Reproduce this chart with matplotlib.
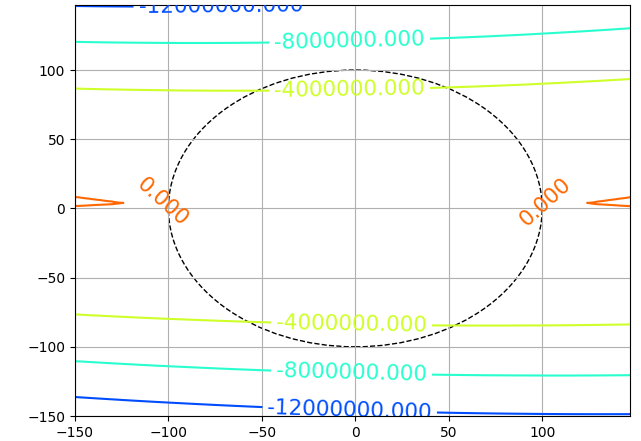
import numpy as np
import matplotlib
matplotlib.use("Agg")
import matplotlib.pyplot as plt

# grid of the field (data extent sets the axes limits, like the original)
xs = np.arange(-150, 148, 1.0)
ys = np.arange(-150, 148, 1.0)

# contour levels and where their labels sit
levels = [-12000000, -8000000, -4000000, 0]
label_pos = [(-72, 145), (-3, 120), (-3, 87),
             (-2, -84), (-2, -119), (-3, -146),
             (-103, 5), (102, 4)]
zero_label_rot = {-1: -42, 1: 42}

# field coefficients
a0, a1 = 555.0, -0.31         # curvature of the y-parabola, drifts with x
c0, c1 = 1.0, 4.0             # centre line of the parabola
b_amp, x_tip = 8.5, 122.0     # small lift giving the thin 0-level wedges at the edges
bump_x, bump_amp, bump_sig = [-103, 102], 6000.0, 3.0

X, Y = np.meshgrid(xs, ys)
a = a0 + a1 * X
c = c0 + c1 * (X / 150.0) ** 2
d = np.maximum(np.abs(X) - x_tip, -30)
Z = -a * (Y - c) ** 2 + b_amp * np.sign(d) * d ** 2
for bx in bump_x:
    Z += bump_amp * np.exp(-((X - bx) ** 2 + (Y - c) ** 2) / (2 * bump_sig ** 2))

fig = plt.figure(figsize=(6.41, 4.41), dpi=100)
ax = fig.add_axes([75 / 641, 25 / 441, 555 / 641, 411 / 441])

cs = ax.contour(X, Y, Z, levels=levels, cmap='jet', vmin=-16000000, vmax=4000000)
texts = ax.clabel(cs, fmt='%1.3f', fontsize=15.5, manual=label_pos, inline=True)
for t in texts:
    if t.get_text() == '0.000':
        t.set_rotation(zero_label_rot[int(np.sign(t.get_position()[0]))])

circle = plt.Circle((0, 0), 100, fill=False, ls='--', color='k', lw=1)
ax.add_patch(circle)
ax.grid(True)

fig.savefig('out.png', dpi=100)
